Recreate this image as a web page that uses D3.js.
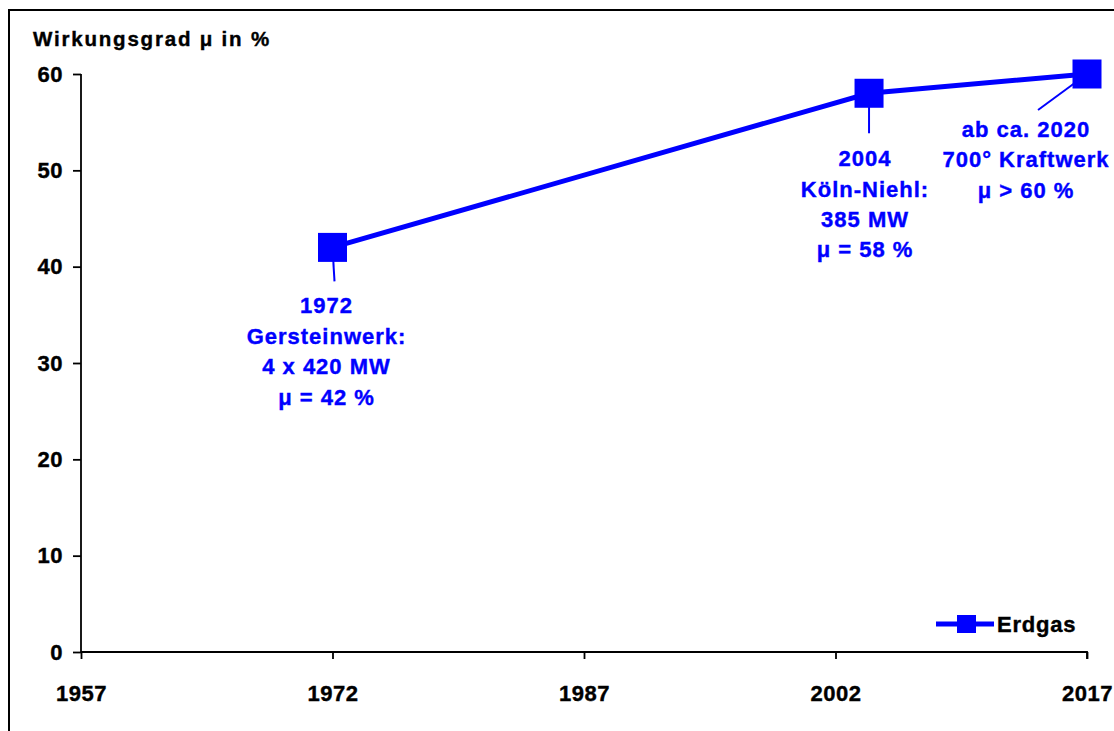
<!DOCTYPE html>
<html><head><meta charset="utf-8">
<script src="https://cdn.jsdelivr.net/npm/d3@7"></script>
<style>
html,body{margin:0;padding:0;background:#fff;}
svg{display:block;font-family:"Liberation Sans",Arial,sans-serif;font-weight:bold;}
</style></head>
<body>
<svg id="c" width="1114" height="731"></svg>
<script>
// ---- data ----
const years = [1972, 2004, 2017];
const efficiency = [42, 58, 60];
const seriesName = "Erdgas";
const xTicks = [1957, 1972, 1987, 2002, 2017];
const yTicks = [0, 10, 20, 30, 40, 50, 60];
const yTitle = "Wirkungsgrad μ in %";
const notes = [
  ["1972", "Gersteinwerk:", "4 x 420 MW", "μ = 42 %"],
  ["2004", "Köln-Niehl:", "385 MW", "μ = 58 %"],
  ["ab ca. 2020", "700° Kraftwerk", "μ > 60 %"]
];
// ---- layout (pixel offsets of notes relative to their point) ----
const noteLayout = [
  {dx: -6, dy: 66, lx: 2, ly: 34},
  {dx: -4, dy: 73, lx: 0, ly: 40},
  {dx: -61, dy: 63, lx: -49, ly: 36}
];
const blue = "#0000FF";
const svg = d3.select("#c");

// frame
svg.append("rect").attr("x", 9).attr("y", 10).attr("width", 1300).attr("height", 900)
  .attr("fill", "none").attr("stroke", "#000").attr("stroke-width", 2);

const x = d3.scaleLinear().domain([1957, 2017]).range([81, 1087]);
const y = d3.scaleLinear().domain([0, 60]).range([652, 74]);

// y axis
const yAxis = svg.append("g").attr("transform", "translate(81,0)")
  .call(d3.axisLeft(y).tickValues(yTicks).tickSize(8).tickPadding(10).tickFormat(d3.format("d")));
// x axis
const xAxis = svg.append("g").attr("transform", "translate(0,652)")
  .call(d3.axisBottom(x).tickValues(xTicks).tickSize(7).tickPadding(26).tickFormat(d3.format("d")));
[yAxis, xAxis].forEach(g => {
  g.select(".domain").attr("stroke", "#000").attr("stroke-width", 1.8);
  g.selectAll(".tick line").attr("stroke", "#000").attr("stroke-width", 1.8);
  g.selectAll(".tick text").attr("fill", "#000").style("font-size", "22px")
    .style("font-family", '"Liberation Sans",Arial,sans-serif').style("font-weight", "bold")
    .style("letter-spacing", "0.5px").attr("stroke", "#000").attr("stroke-width", 0.4);
});
xAxis.select(".domain").attr("d", `M${x(1957)},0H${x(2017)}V7`);
yAxis.select(".domain").attr("d", `M0,${y(60)}V${y(0)}`);

// y title
svg.append("text").attr("x", 33).attr("y", 46).text(yTitle)
  .style("font-size", "20.5px").style("letter-spacing", "1.8px").attr("fill", "#000")
  .attr("stroke", "#000").attr("stroke-width", 0.4);

const pts = years.map((yr, i) => ({x: x(yr), y: y(efficiency[i])}));

// leader lines
pts.forEach((p, i) => {
  const L = noteLayout[i];
  svg.append("line").attr("x1", p.x).attr("y1", p.y)
    .attr("x2", p.x + L.lx).attr("y2", p.y + L.ly)
    .attr("stroke", blue).attr("stroke-width", 2);
});

// series line
svg.append("path").datum(pts)
  .attr("d", d3.line().x(d => d.x).y(d => d.y))
  .attr("fill", "none").attr("stroke", blue).attr("stroke-width", 5);

// markers
const ms = 29;
svg.selectAll("rect.m").data(pts).join("rect").attr("class", "m")
  .attr("x", d => d.x - ms / 2).attr("y", d => d.y - ms / 2)
  .attr("width", ms).attr("height", ms).attr("fill", blue);

// notes
pts.forEach((p, i) => {
  const L = noteLayout[i];
  const t = svg.append("text").attr("text-anchor", "middle").attr("fill", blue)
    .attr("stroke", blue).attr("stroke-width", 0.4)
    .style("font-size", "22px").style("letter-spacing", "1px");
  notes[i].forEach((line, k) => {
    t.append("tspan").attr("x", p.x + L.dx).attr("y", p.y + L.dy + k * 30.4).text(line);
  });
});

// legend
const lg = svg.append("g").attr("transform", "translate(936,624)");
lg.append("line").attr("x1", 0).attr("x2", 58).attr("y1", 0).attr("y2", 0)
  .attr("stroke", blue).attr("stroke-width", 5);
lg.append("rect").attr("x", 21).attr("y", -9).attr("width", 19).attr("height", 18).attr("fill", blue);
lg.append("text").attr("x", 61).attr("y", 8).text(seriesName)
  .style("font-size", "22px").style("letter-spacing", "0.8px").attr("fill", "#000")
  .attr("stroke", "#000").attr("stroke-width", 0.4);
</script>
</body></html>
